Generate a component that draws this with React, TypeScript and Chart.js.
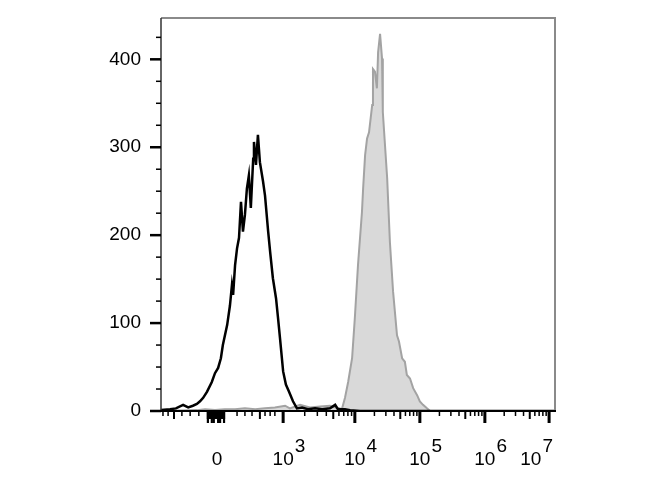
import React, { useEffect, useRef } from 'react';
import { Chart, registerables } from 'chart.js';

Chart.register(...registerables);

// Histogram channels (display scale 0..1000) and event counts
const blackX = [0, 23, 38, 56, 69, 81, 91, 99, 107, 117, 129, 137, 145, 152, 157, 168, 175, 180, 183, 188, 193, 198, 203, 208, 213, 218, 223, 228, 234, 236, 241, 246, 251, 259, 264, 272, 277, 284, 292, 297, 302, 310, 317, 325, 335, 345, 358, 373, 391, 409, 429, 442, 449, 467, 480, 505, 1000];
const blackY = [1, 2, 3, 7, 4, 6, 8, 11, 15, 22, 33, 43, 49, 60, 75, 98, 120, 143, 132, 166, 185, 197, 238, 204, 223, 253, 268, 231, 287, 306, 280, 314, 283, 261, 245, 204, 181, 151, 128, 106, 83, 45, 30, 22, 11, 3, 4, 2, 3, 2, 3, 7, 2, 2, 1, 0, 0];

const grayX = [0, 91, 112, 137, 162, 188, 213, 239, 264, 289, 315, 327, 353, 378, 404, 429, 444, 454, 459, 467, 475, 485, 492, 500, 510, 513, 518, 523, 528, 536, 538, 543, 548, 551, 556, 561, 563, 574, 581, 589, 599, 604, 612, 619, 624, 632, 640, 650, 657, 665, 675, 683, 1000];
const grayY = [0, 1, 2, 1, 2, 2, 3, 2, 3, 4, 6, 3, 7, 4, 5, 6, 4, 3, 2, 15, 33, 60, 106, 166, 226, 253, 291, 310, 317, 348, 389, 386, 367, 408, 429, 401, 340, 265, 192, 136, 86, 79, 60, 56, 41, 37, 26, 18, 11, 7, 3, 0, 0];

// Axes
const yTickValues = [0, 100, 200, 300, 400];
const yMinorStep = 25;
const yMax = 447;
const xMin = 0;
const xMax = 1000;
const xMajorTickCh = [142, 310, 492, 657, 822, 985];
const xTickBase = ['0', '10', '10', '10', '10', '10'];
const xTickExp = ['', '3', '4', '5', '6', '7'];
const xNegMinorCh = [5, 18, 33, 53, 74, 96];
const xNegMidCh = [33];
const xZeroBlockCh = [119, 124, 129, 134, 139, 145, 150, 155, 160];
const xLowMinorCh = [193, 213, 231, 251, 264, 277, 289];
const xLowMidCh = [251];

const FONT = "Arial, 'Liberation Sans', sans-serif";
const FONT_SIZE = 19;

const decorPlugin = {
  id: 'decor',
  afterDatasetsDraw(chart: any) {
    const { ctx, chartArea: a, scales } = chart;
    const xs = scales.x;
    const ys = scales.y;
    ctx.save();

    // frame
    ctx.strokeStyle = '#8a8a8a';
    ctx.lineWidth = 2;
    ctx.beginPath();
    ctx.moveTo(a.left, a.top);
    ctx.lineTo(a.right, a.top);
    ctx.lineTo(a.right, a.bottom);
    ctx.stroke();
    ctx.strokeStyle = '#333';
    ctx.lineWidth = 1.5;
    ctx.beginPath();
    ctx.moveTo(a.left, a.top);
    ctx.lineTo(a.left, a.bottom);
    ctx.stroke();
    ctx.strokeStyle = '#000';
    ctx.lineWidth = 2;
    ctx.beginPath();
    ctx.moveTo(a.left, a.bottom);
    ctx.lineTo(a.right + 1, a.bottom);
    ctx.stroke();

    ctx.fillStyle = '#000';
    // y ticks
    for (let v = 0; v <= yMax; v += yMinorStep) {
      const y = ys.getPixelForValue(v);
      const major = yTickValues.includes(v);
      const len = major ? 11 : 5;
      const w = major ? 2.5 : 1.5;
      ctx.fillRect(a.left - len, y - w / 2, len, w);
    }

    // x ticks
    const xTick = (ch: number, kind: 'major' | 'mid' | 'minor', wOverride?: number) => {
      const x = xs.getPixelForValue(ch);
      const len = kind === 'major' ? 12 : kind === 'mid' ? 8 : 5;
      const w = wOverride ?? (kind === 'major' ? 3 : kind === 'mid' ? 2 : 1.5);
      ctx.fillRect(x - w / 2, a.bottom, w, len);
    };
    xNegMinorCh.forEach((c) => xTick(c, xNegMidCh.includes(c) ? 'mid' : 'minor'));
    xZeroBlockCh.forEach((c, i) => xTick(c, i % 3 === 1 ? 'mid' : 'major', 2.2));
    xLowMinorCh.forEach((c) => xTick(c, xLowMidCh.includes(c) ? 'mid' : 'minor'));
    xMajorTickCh.forEach((c, i) => {
      if (i > 0) xTick(c, 'major');
      if (i >= 1 && i < xMajorTickCh.length - 1) {
        const lo = c;
        const hi = xMajorTickCh[i + 1];
        for (let m = 2; m <= 9; m++) {
          xTick(lo + Math.log10(m) * (hi - lo), m === 5 ? 'mid' : 'minor');
        }
      }
    });
    // solid cap of the dense tick block around zero
    const z0 = xs.getPixelForValue(xZeroBlockCh[0]);
    const z1 = xs.getPixelForValue(xZeroBlockCh[xZeroBlockCh.length - 1]);
    ctx.fillRect(z0 - 1.1, a.bottom, z1 - z0 + 2.2, 8);

    // x labels with superscripts
    ctx.font = `${FONT_SIZE}px ${FONT}`;
    ctx.textBaseline = 'alphabetic';
    ctx.textAlign = 'left';
    const baseY = 465;
    const supY = 452;
    xMajorTickCh.forEach((c, i) => {
      const x = xs.getPixelForValue(c);
      const base = xTickBase[i];
      const exp = xTickExp[i];
      const wb = ctx.measureText(base).width;
      const we = exp ? ctx.measureText(exp).width + 1 : 0;
      let left = x - wb / 2;
      const limit = a.right - 2;
      if (left + wb + we > limit) left = limit - wb - we;
      ctx.fillText(base, left, baseY);
      if (exp) ctx.fillText(exp, left + wb + 1, supY);
    });

    ctx.restore();
  },
};

export default function App() {
  const ref = useRef<HTMLCanvasElement>(null);

  useEffect(() => {
    const canvas = ref.current;
    if (!canvas) return;
    const chart = new Chart(canvas, {
      type: 'line',
      data: {
        datasets: [
          {
            label: 'Control',
            data: blackX.map((x, i) => ({ x, y: blackY[i] })),
            borderColor: '#000000',
            borderWidth: 2.5,
            pointRadius: 0,
            fill: false,
            tension: 0,
            order: 0,
          },
          {
            label: 'Stained',
            data: grayX.map((x, i) => ({ x, y: grayY[i] })),
            borderColor: '#a3a3a3',
            backgroundColor: '#d9d9d9',
            borderWidth: 2,
            pointRadius: 0,
            fill: 'origin',
            tension: 0,
            order: 1,
          },
        ],
      },
      options: {
        responsive: false,
        animation: false,
        devicePixelRatio: 1,
        layout: { padding: { left: 0, top: 18, right: 115, bottom: 89 } },
        plugins: {
          legend: { display: false },
          tooltip: { enabled: false },
        },
        scales: {
          x: {
            type: 'linear',
            min: xMin,
            max: xMax,
            display: false,
          },
          y: {
            type: 'linear',
            min: 0,
            max: yMax,
            grid: { display: false, drawTicks: false },
            border: { display: false },
            afterBuildTicks: (scale: any) => {
              scale.ticks = yTickValues.map((v) => ({ value: v }));
            },
            afterFit: (scale: any) => {
              scale.width = 161;
              scale.paddingTop = 0;
              scale.paddingBottom = 0;
            },
            ticks: {
              color: '#000',
              padding: 20,
              font: { size: FONT_SIZE, family: FONT },
              callback: (v: any) => String(v),
            },
          },
        },
      },
      plugins: [decorPlugin],
    } as any);
    return () => chart.destroy();
  }, []);

  return (
    <div style={{ position: 'absolute', left: 0, top: 0, width: 670, height: 500, background: '#fff' }}>
      <canvas ref={ref} width={670} height={500} style={{ display: 'block', width: 670, height: 500 }} />
    </div>
  );
}
